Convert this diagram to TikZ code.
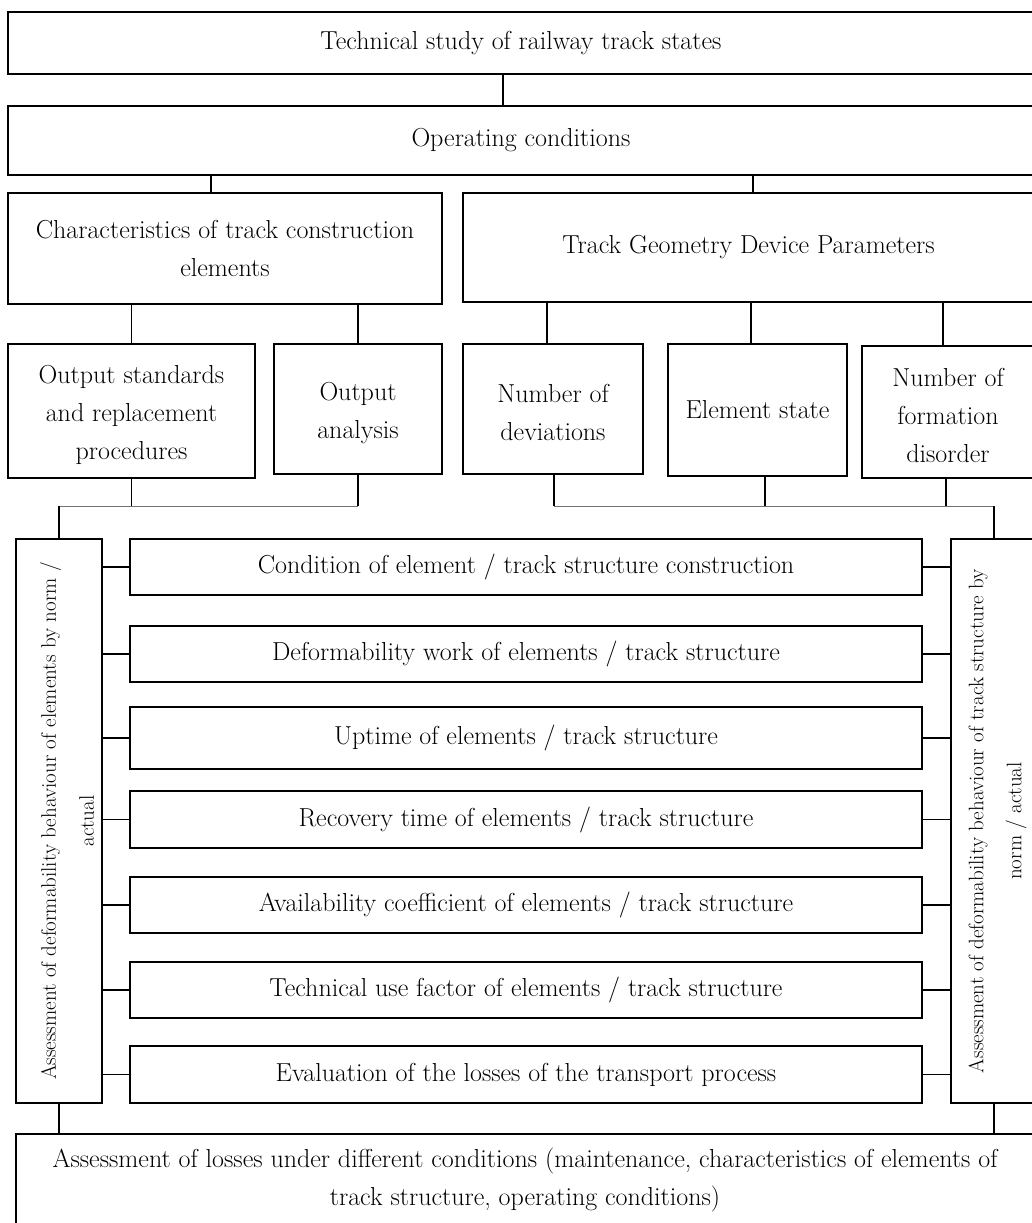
\documentclass[tikz,border=0pt]{standalone}
\usepackage{fontspec}
\newcommand\mainfs{\fontsize{26}{38}\selectfont}
\newcommand\vfs{\fontsize{21}{38}\selectfont}
\newcommand\lowr{\rule{0pt}{26pt}}
\begin{document}
\begin{tikzpicture}[x=1pt,y=-1pt,
  box/.style={draw, line width=1.2pt, inner sep=0pt, align=center, font=\mainfs},
  link/.style={line width=1.2pt},
  bus/.style={line width=1.7pt, draw=black!55},
  vtext/.style={rotate=90, align=center, font=\vfs, inner sep=0pt}]
\useasboundingbox (0,0) rectangle (1032,1223);
\fill[white] (0,0) rectangle (1032,1223);

\node[box, minimum width=1026, minimum height=62] (top) at (521,43) {Technical study of railway track states};
\node[box, minimum width=1026, minimum height=69] (op) at (521,140.5) {Operating conditions};
\node[box, minimum width=434, minimum height=111] (char) at (225,248.5) {Characteristics of track construction\\elements};
\node[box, minimum width=571, minimum height=109] (tgd) at (748.5,247.5) {Track Geometry Device Parameters};

\node[box, minimum width=247, minimum height=134] (os) at (131.5,411) {\lowr Output standards\\and replacement\\procedures};
\node[box, minimum width=168, minimum height=130] (oa) at (358,409) {\lowr Output\\analysis};
\node[box, minimum width=180, minimum height=130] (nd) at (553,409) {\lowr Number of\\deviations};
\node[box, minimum width=179, minimum height=132] (es) at (757.5,410) {Element state};
\node[box, minimum width=172, minimum height=132] (nf) at (948,412) {\lowr Number of\\formation\\disorder};

\node[box, minimum width=86, minimum height=564] (lv) at (59,821) {};
\node[box, minimum width=83, minimum height=564] (rv) at (992.5,821) {};
\node[vtext] (lvt) at ([xshift=8pt]lv.center) {Assessment of deformability behaviour of elements by norm /\\actual};
\node[vtext] (rvt) at ([xshift=5pt]rv.center) {Assessment of deformability behaviour of track structure by\\norm / actual};

\node[box, minimum width=792, minimum height=56] (m1) at (526,567) {Condition of element / track structure construction};
\node[box, minimum width=792, minimum height=56] (m2) at (526,654) {Deformability work of elements / track structure};
\node[box, minimum width=792, minimum height=62] (m3) at (526,738) {Uptime of elements / track structure};
\node[box, minimum width=792, minimum height=57] (m4) at (526,819.5) {Recovery time of elements / track structure};
\node[box, minimum width=792, minimum height=56] (m5) at (526,905) {Availability coefficient of elements / track structure};
\node[box, minimum width=792, minimum height=56] (m6) at (526,990) {Technical use factor of elements / track structure};
\node[box, minimum width=792, minimum height=57] (m7) at (526,1074.5) {Evaluation of the losses of the transport process};

\node[box, minimum width=1018, minimum height=92] (bot) at (525,1180) {Assessment of losses under different conditions (maintenance, characteristics of elements of\\track structure, operating conditions)};

% upper connectors
\draw[link] ([xshift=-18pt]top.south) -- ([xshift=-18pt]top.south |- op.north);
\draw[link] ([xshift=-14pt]char.north) -- ([xshift=-14pt]char.north |- op.south);
\draw[link] ([xshift=4.5pt]tgd.north) -- ([xshift=4.5pt]tgd.north |- op.south);
\draw[link] (os.north) -- (os.north |- char.south);
\draw[link] (oa.north) -- (oa.north |- char.south);
\draw[link] ([xshift=-6pt]nd.north) -- ([xshift=-6pt]nd.north |- tgd.south);
\draw[link] ([xshift=-6.5pt]es.north) -- ([xshift=-6.5pt]es.north |- tgd.south);
\draw[link] ([xshift=-5pt]nf.north) -- ([xshift=-5pt]nf.north |- tgd.south);

% junctions
\path (lv.north) ++(0,-32) coordinate (jl);
\path (rv.north) ++(1.5,-32) coordinate (jr);
\draw[link] (os.south) -- (os.south |- jl);
\draw[link] (oa.south) -- (oa.south |- jl);
\draw[bus] (jl) -- (oa.south |- jl);
\draw[link] (jl) -- (lv.north);
\draw[link] ([xshift=1pt]nd.south) -- ([xshift=1pt]nd.south |- jr);
\draw[link] ([xshift=7.5pt]es.south) -- ([xshift=7.5pt]es.south |- jr);
\draw[link] ([xshift=-2pt]nf.south) -- ([xshift=-2pt]nf.south |- jr);
\draw[bus] ([xshift=1pt]nd.south |- jr) -- (jr);
\draw[link] (jr) -- (jr |- rv.north);

% side connectors
\foreach \i in {1,...,7} {
  \draw[link] (m\i.west) -- (m\i.west -| lv.east);
  \draw[link] (m\i.east) -- (m\i.east -| rv.west);
}

% to bottom
\draw[link] (lv.south) -- (lv.south |- bot.north);
\draw[link] ([xshift=1.5pt]rv.south) -- ([xshift=1.5pt]rv.south |- bot.north);
\end{tikzpicture}
\end{document}
